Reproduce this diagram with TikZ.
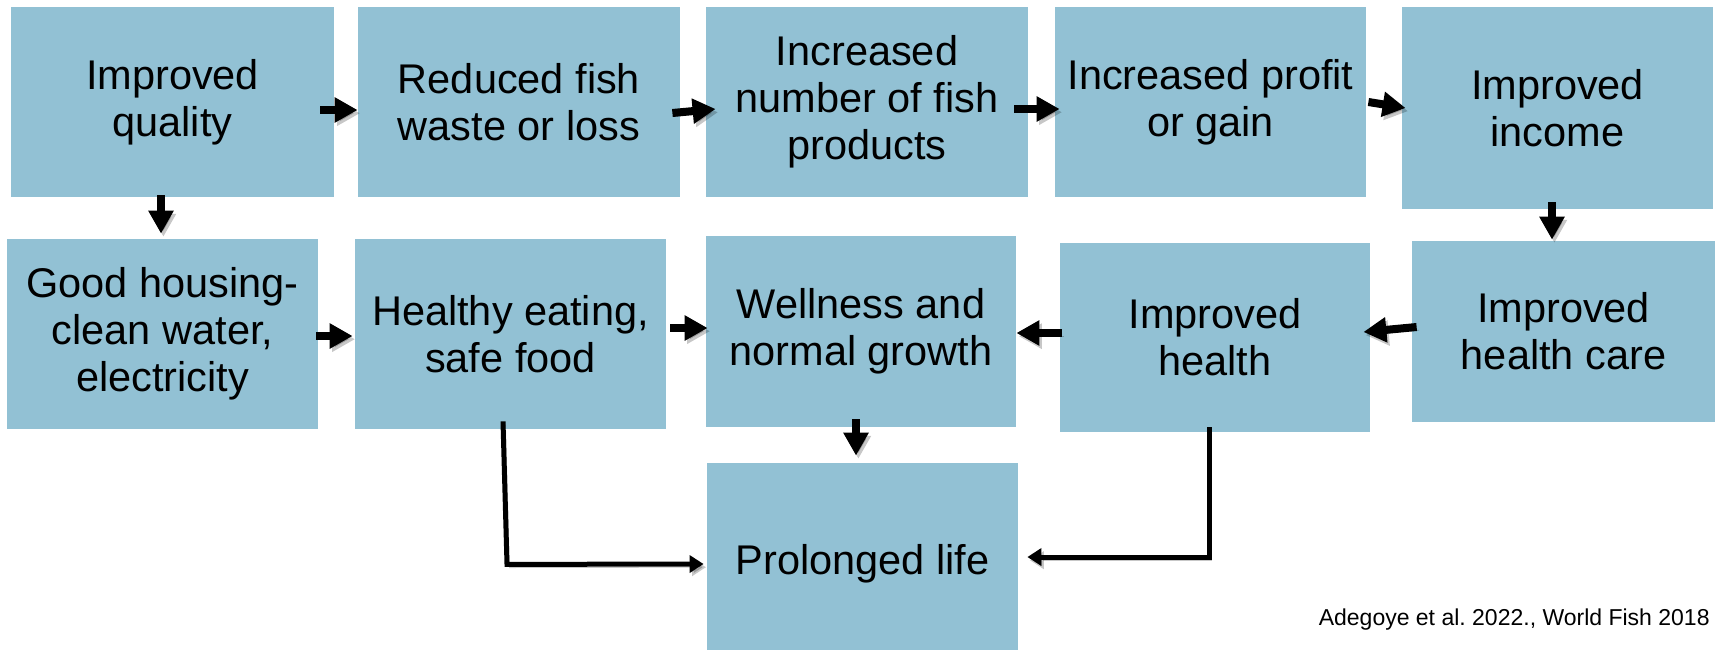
\documentclass[tikz,border=0pt]{standalone}
\usepackage{fontspec}
\setmainfont{Liberation Sans}
\usetikzlibrary{arrows.meta,calc}
\definecolor{boxblue}{HTML}{92C1D4}
\frenchspacing
\begin{document}
\begin{tikzpicture}[x=0.5pt,y=-0.5pt,
  box/.style={fill=boxblue,inner sep=0pt,align=center,
    font=\fontsize{20.75pt}{23.5pt}\selectfont},
  shade/.style={preaction={draw=black,opacity=0.22,transform canvas={xshift=1.2pt,yshift=-1.6pt}}},
  arr/.style={shade,line width=4pt,-{Triangle[length=11.5pt,width=12pt]}},
  elbow/.style={shade,line width=2.5pt,-{Triangle[length=7pt,width=8.5pt]}}]
\useasboundingbox (0,0) rectangle (1717,649);
% row 1
\node[box,minimum width=161.5pt,minimum height=95pt] (b1) at (172.5,102) {Improved\\quality};
\node[box,minimum width=161pt,minimum height=95pt] (b2) at (519,102) {Reduced fish\\waste or loss};
\node[box,minimum width=161pt,minimum height=95pt] (b3) at (867,102) {Increased\\number of fish\\products};
\node[box,minimum width=155.5pt,minimum height=95pt] (b4) at (1210.5,102) {Increased profit\\or gain};
\node[box,minimum width=155.5pt,minimum height=101pt] (b5) at (1557.5,108) {Improved\\income};
% row 2
\node[box,minimum width=155.5pt,minimum height=95pt] (b6) at (162.5,334) {Good housing-\\clean water,\\electricity};
\node[box,minimum width=155.5pt,minimum height=95pt] (b7) at (510.5,334) {Healthy eating,\\safe food};
\node[box,minimum width=155pt,minimum height=95.5pt] (b8) at (861,331.5) {Wellness and\\normal growth};
\node[box,minimum width=155pt,minimum height=94.5pt] (b9) at (1215,337.5) {Improved\\health};
\node[box,minimum width=151.5pt,minimum height=90.5pt] (b10) at (1563.5,331.5) {Improved\\health care};
% row 3 (box runs past the lower edge)
\node[box,minimum width=155.5pt,minimum height=101pt] (b11) at (862.5,564) {Prolonged life};
% citation
\node[anchor=east,inner sep=0pt,font=\fontsize{11.5pt}{13pt}\selectfont] (cite) at (1710,620) {Adegoye et al. 2022., World Fish 2018};
% arrows
\draw[arr] ($(b1.east)+(-14,8)$) -- ($(b2.west)+(0,8)$);
\draw[arr] ($(b2.east)+(-8,11)$) -- ($(b3.west)+(10,7)$);
\draw[arr] ($(b3.east)+(-14,7)$) -- ($(b4.west)+(5,7)$);
\draw[arr] ($(b4.east)+(2,0)$) -- ($(b5.west)+(4,0)$);
\draw[arr] ($(b1.south)+(-11.5,-2)$) -- ($(b6.north)+(-1.5,-5)$);
\draw[arr] ($(b5.south)+(-5.5,-7)$) -- ($(b10.north)+(-11.5,-1)$);
\draw[arr] ($(b6.east)+(-2,2)$) -- ($(b7.west)+(-2,2)$);
\draw[arr] ($(b7.east)+(4,-6)$) -- ($(b8.west)+(2,-3.5)$);
\draw[arr] ($(b9.west)+(2,-4.5)$) -- ($(b8.east)+(0,1.5)$);
\draw[arr] ($(b10.west)+(5,-4.5)$) -- ($(b9.east)+(-7,-5.5)$);
\draw[arr] ($(b8.south)+(-5,-8)$) -- ($(b11.north)+(-6.5,-7)$);
\draw[elbow] ($(b7.south)+(-7.5,-8)$) -- ++(4,143) -- ($(b11.west)+(-3,0)$);
\draw[elbow] ($(b9.south)+(-6,-5)$) |- ($(b11.east)+(9,-7)$);
\end{tikzpicture}
\end{document}
